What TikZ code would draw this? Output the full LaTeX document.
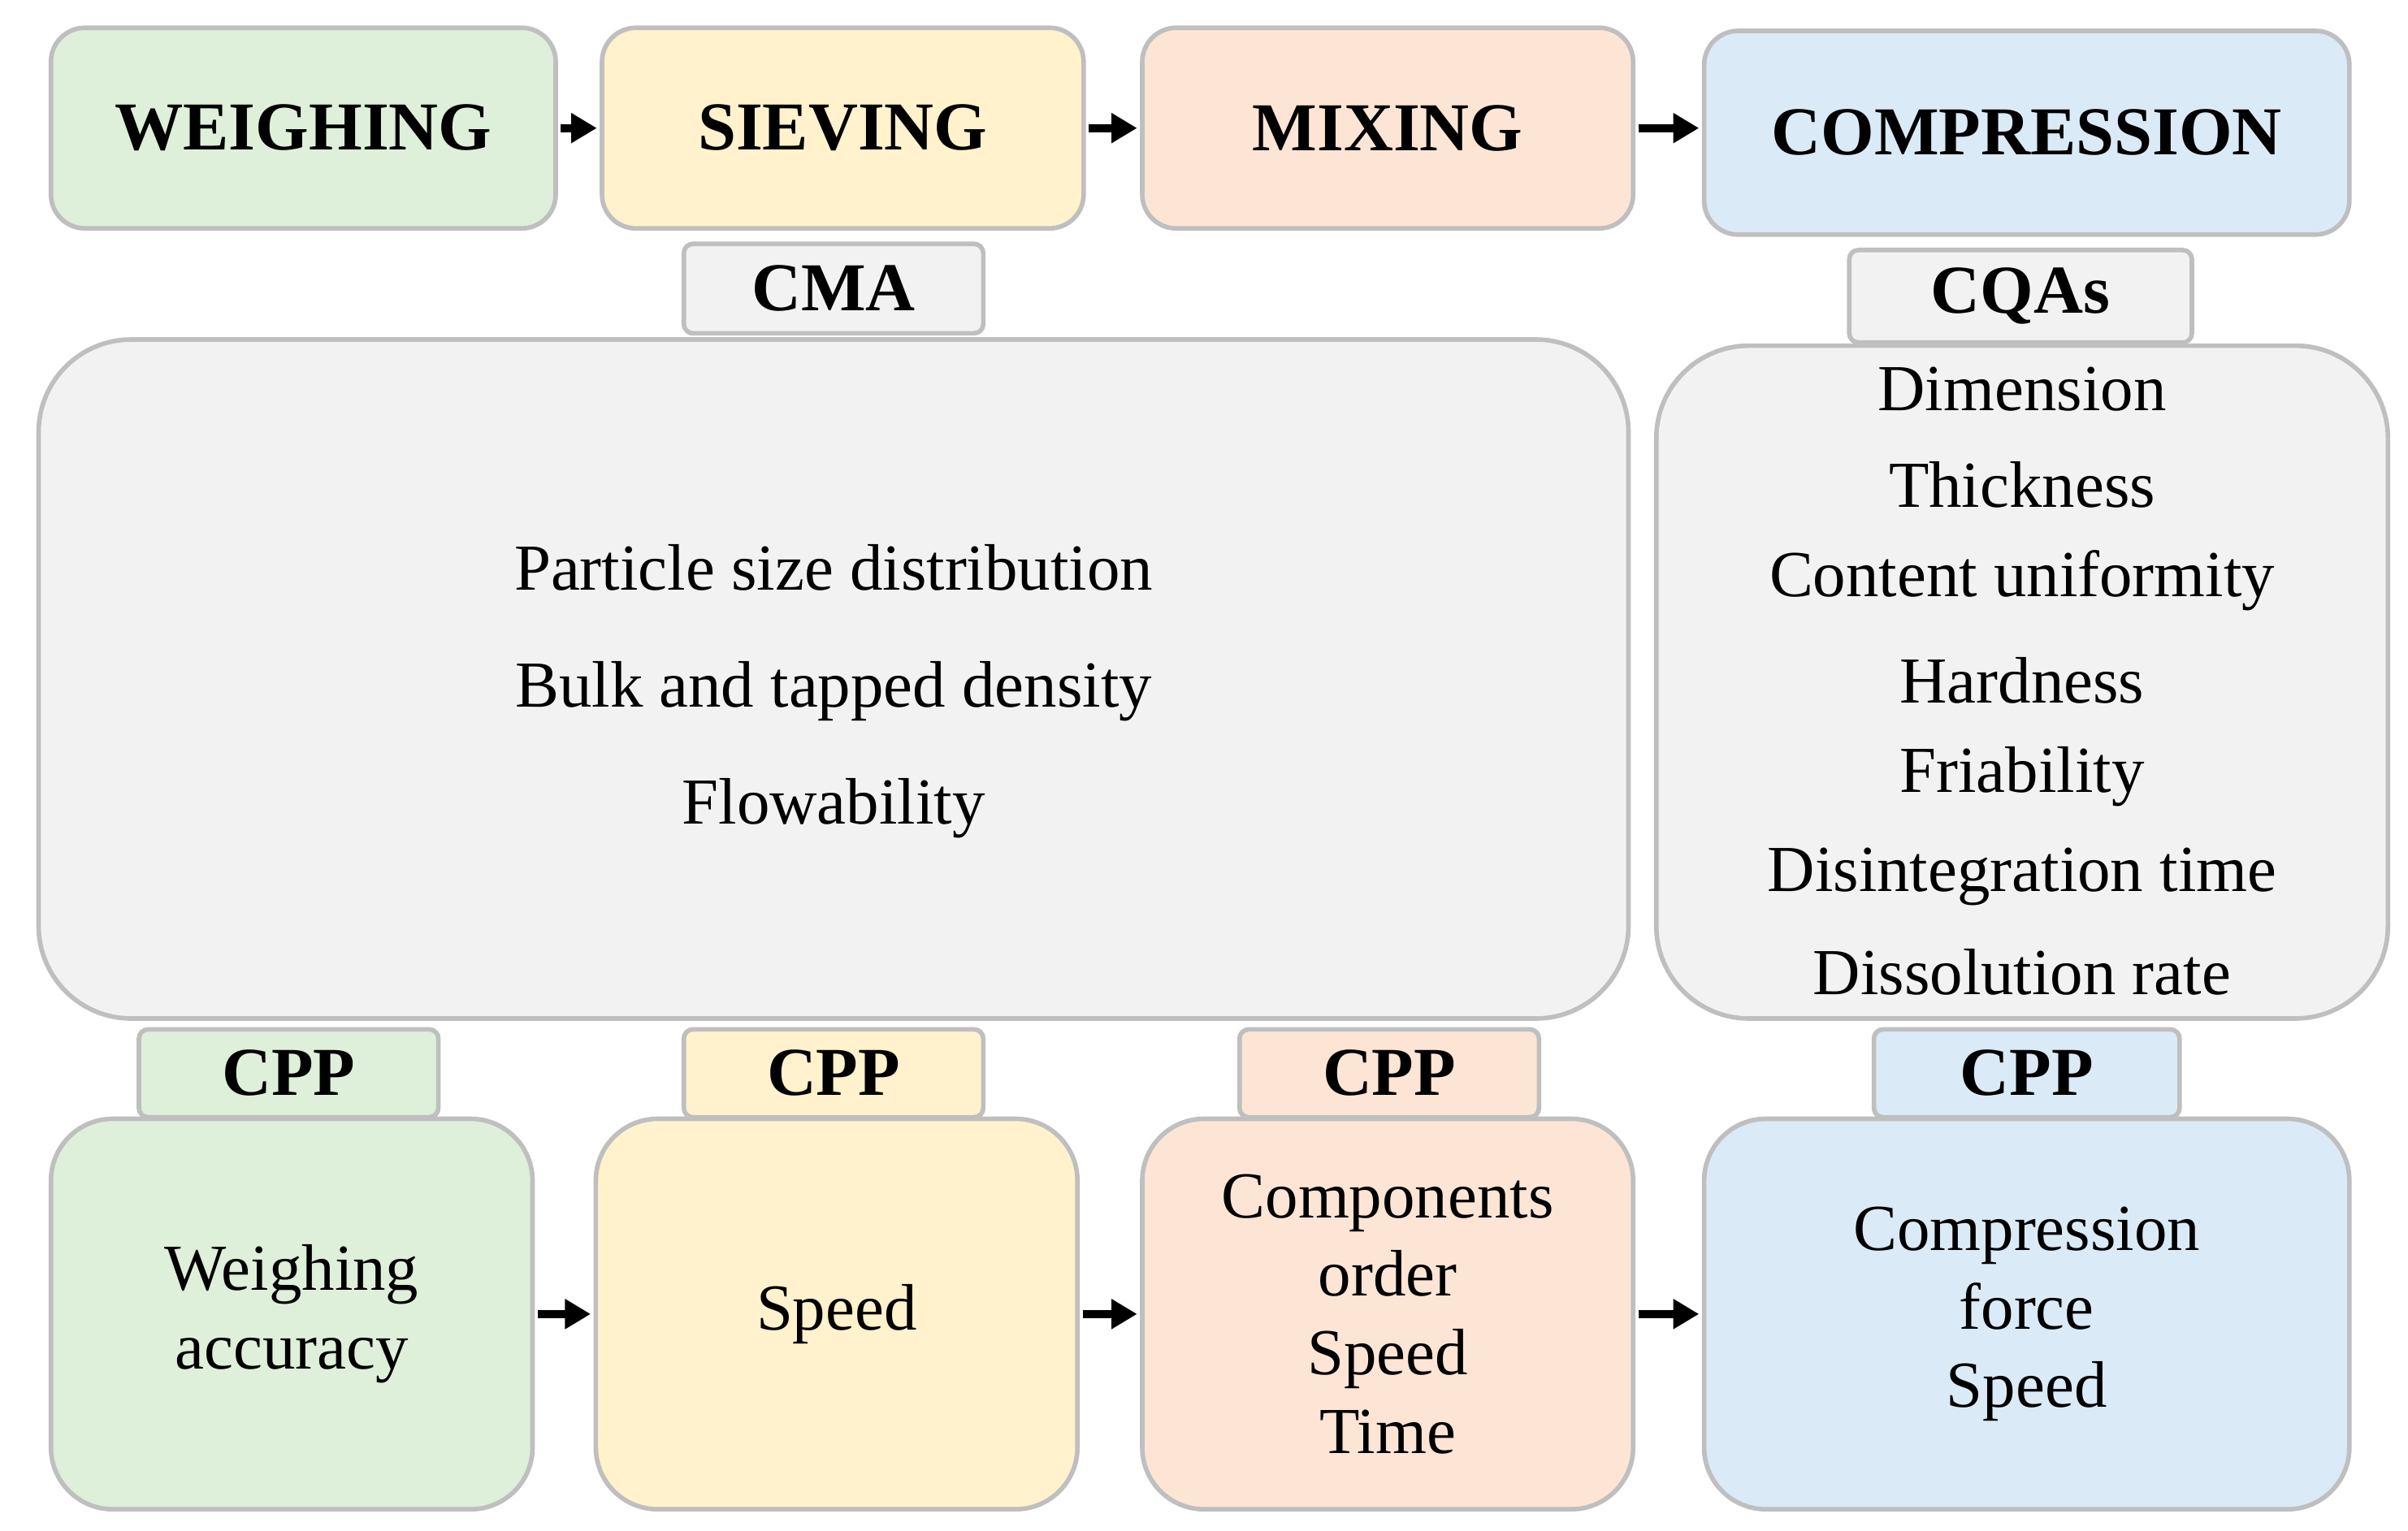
\documentclass[tikz,border=0pt]{standalone}
\usepackage{fontspec}
\setmainfont{Liberation Serif}
\usetikzlibrary{arrows.meta}
\definecolor{gA}{HTML}{DEEFDA}
\definecolor{yA}{HTML}{FFF2CC}
\definecolor{pA}{HTML}{FDE5D6}
\definecolor{bA}{HTML}{DBEAF7}
\definecolor{grA}{HTML}{F2F2F2}
\definecolor{edA}{HTML}{BFBFBF}
\def\u{0.019cm}
\tikzset{
 bx/.style={draw=edA,line width=1.6pt,rounded corners=22*\u,inner sep=0pt},
 hd/.style={font=\fontsize{24}{28}\selectfont\bfseries},
 tx/.style={font=\fontsize{23}{27.5}\selectfont,align=center},
 ar/.style={line width=2.8pt,-{Triangle[length=9pt,width=10pt]},shorten <=1pt,shorten >=1pt},
}
\begin{document}
\begin{tikzpicture}[x=0.019cm,y=-0.019cm]
\useasboundingbox (0,0) rectangle (1560,991.6);
% top
\node[bx,fill=gA,minimum width=327*\u,minimum height=130*\u,hd] (w) at (196.5,83) {WEIGHING};
\node[bx,fill=yA,minimum width=312*\u,minimum height=130*\u,hd] (s) at (546,83) {SIEVING};
\node[bx,fill=pA,minimum width=318*\u,minimum height=130*\u,hd] (m) at (899,83) {MIXING};
\node[bx,fill=bA,minimum width=418*\u,minimum height=132*\u,hd] (c) at (1313,86) {COMPRESSION};
\draw[ar] (w) -- (s); \draw[ar] (s) -- (m); \draw[ar] (m.east) -- (m.east -| c.west);
% labels
\node[bx,rounded corners=6*\u,fill=grA,minimum width=194*\u,minimum height=58*\u,hd] (cma) at (540,187) {CMA};
\node[bx,rounded corners=6*\u,fill=grA,minimum width=222*\u,minimum height=60*\u,hd] (cqa) at (1309,192) {CQAs};
\node[bx,rounded corners=60*\u,fill=grA,minimum width=1030*\u,minimum height=440*\u] (big) at (540,440) {};
\node[bx,rounded corners=60*\u,fill=grA,minimum width=474*\u,minimum height=436*\u] (rt) at (1310,442) {};
\node[tx] (t1) at (540,368) {Particle size distribution};
\node[tx] (t2) at (540,448) {Bulk and tapped density};
\node[tx] (t3) at (540,524) {Flowability};
\foreach \t/\yy [count=\i] in {Dimension/252,Thickness/314,Content uniformity/376,Hardness/441,Friability/503,Disintegration time/568,Dissolution rate/630}
  \node[tx] (q\i) at (1310,\yy) {\t};
% CPP
\node[bx,rounded corners=6*\u,fill=gA,minimum width=194*\u,minimum height=57*\u,hd] (p1) at (187,695.5) {CPP};
\node[bx,rounded corners=6*\u,fill=yA,minimum width=194*\u,minimum height=57*\u,hd] (p2) at (540,695.5) {CPP};
\node[bx,rounded corners=6*\u,fill=pA,minimum width=194*\u,minimum height=57*\u,hd] (p3) at (900,695.5) {CPP};
\node[bx,rounded corners=6*\u,fill=bA,minimum width=198*\u,minimum height=57*\u,hd] (p4) at (1313,695.5) {CPP};
% bottom
\node[bx,rounded corners=40*\u,fill=gA,minimum width=312*\u,minimum height=253*\u,tx] (b1) at (189,851.5) {Weighing\\accuracy};
\node[bx,rounded corners=40*\u,fill=yA,minimum width=312*\u,minimum height=253*\u,tx] (b2) at (542,851.5) {Speed};
\node[bx,rounded corners=40*\u,fill=pA,minimum width=318*\u,minimum height=253*\u,tx] (b3) at (899,851.5) {Components\\order\\Speed\\Time};
\node[bx,rounded corners=40*\u,fill=bA,minimum width=418*\u,minimum height=253*\u,tx] (b4) at (1313,851.5) {Compression\\force\\Speed};
\draw[ar] (b1.east) -- (b1.east -| b2.west);
\draw[ar] (b2.east) -- (b2.east -| b3.west);
\draw[ar] (b3.east) -- (b3.east -| b4.west);
\end{tikzpicture}
\end{document}
